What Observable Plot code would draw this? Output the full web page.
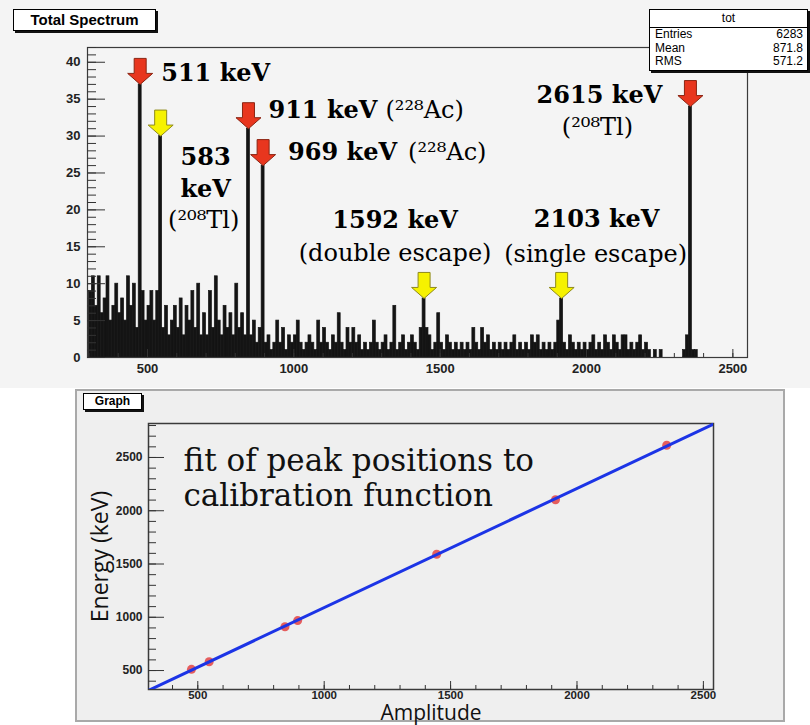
<!DOCTYPE html>
<html>
<head>
<meta charset="utf-8">
<script src="https://cdn.jsdelivr.net/npm/d3@7"></script>
<script src="https://cdn.jsdelivr.net/npm/@observablehq/plot@0.6"></script>
<style>
  html, body { margin: 0; padding: 0; background: #fff; }
  #page { position: relative; width: 810px; height: 725px; overflow: hidden; background: #fff; }
  #spectrumPad { position: absolute; left: 0; top: 0; width: 810px; height: 388px; background: #f4f4f4; }
  #graphPad { position: absolute; left: 75px; top: 389px; width: 710px; height: 333px; box-sizing: border-box;
              border: 2px solid #a9a9a9; background: #efefef; }
  #spectrum, #graph { position: absolute; left: 0; }
  #spectrum { top: 0; }
  #graph { top: 388px; }
  .rootTitle { position: absolute; box-sizing: border-box; background: #fff; border: 1px solid #000;
               box-shadow: 2px 2px 0 #111; font-family: "Liberation Sans", Arial, sans-serif; font-weight: bold;
               color: #000; text-align: center; }
  #stats { position: absolute; left: 649px; top: 9px; width: 159px; height: 62px; box-sizing: border-box;
           background: #fff; border: 1px solid #000; box-shadow: 2px 2px 0 #111;
           font-family: "Liberation Sans", Arial, sans-serif; font-size: 12px; color: #000; }
  #stats .head { text-align: center; height: 17px; line-height: 16px; border-bottom: 1px solid #000; }
  #stats .row { display: flex; justify-content: space-between; padding: 0 4px 0 5px; height: 13.5px; line-height: 13.5px; }
</style>
</head>
<body>
<div id="page">
  <div id="spectrumPad"></div>
  <div id="graphPad"></div>
  <div id="spectrum"></div>
  <div id="graph"></div>
  <div class="rootTitle" style="left:13px; top:9px; width:143px; height:22px; font-size:15px; line-height:20px;">Total Spectrum</div>
  <div id="stats">
    <div class="head">tot</div>
    <div class="row"><span>Entries</span><span>6283</span></div>
    <div class="row"><span>Mean</span><span>871.8</span></div>
    <div class="row"><span>RMS</span><span>571.2</span></div>
  </div>
  <div class="rootTitle" style="left:83px; top:393px; width:59px; height:17px; font-size:12px; line-height:15px;">Graph</div>
</div>
<script>
// ---- Spectrum histogram: counts per 10-unit amplitude bin, starting at 300 ----
const binStart = 300;
const binWidth = 10;
const counts = [
  9, 11, 7, 11, 6, 8, 11, 5, 7, 10,     // 300
  6, 8, 5, 11, 7, 10, 4, 37, 9, 5,      // 400
  7, 9, 5, 9, 30, 4, 7, 3, 5, 7,        // 500
  4, 8, 3, 7, 5, 9, 4, 10, 3, 6,        // 600
  3, 9, 4, 11, 5, 3, 7, 4, 6, 3,        // 700
  10, 4, 6, 3, 31, 3, 5, 2, 4, 26,      // 800
  2, 3, 1, 2, 5, 2, 4, 1, 3, 2,         // 900
  3, 5, 2, 1, 2, 3, 2, 1, 5, 2,         // 1000
  4, 2, 1, 3, 2, 6, 2, 1, 4, 2,         // 1100
  4, 2, 3, 1, 2, 1, 2, 5, 2, 1,         // 1200
  2, 3, 1, 2, 7, 1, 2, 3, 1, 2,         // 1300
  3, 2, 1, 4, 8, 4, 3, 1, 2, 6,         // 1400
  2, 1, 3, 2, 1, 2, 1, 2, 1, 2,         // 1500
  1, 4, 2, 1, 4, 2, 3, 1, 2, 1,         // 1600
  2, 1, 2, 1, 2, 3, 1, 2, 1, 2,         // 1700
  1, 3, 2, 3, 1, 2, 1, 2, 1, 2,         // 1800
  5, 8, 2, 1, 3, 2, 1, 2, 1, 2,         // 1900
  1, 2, 3, 1, 2, 1, 3, 2, 1, 3,         // 2000
  2, 1, 3, 3, 1, 2, 1, 2, 3, 1,         // 2100
  2, 1, 0, 1, 0, 1, 0, 0, 0, 0,         // 2200
  0, 0, 0, 1, 3, 34, 1, 1, 0, 0,        // 2300
  0, 0, 0, 0, 0, 0, 0, 0, 0, 0,         // 2400
  0, 0, 0, 0, 0                          // 2500
];

// ---- Identified lines: energy (keV) and fitted peak amplitude ----
const peakEnergy    = [511, 583, 911, 969, 1592, 2103, 2615];
const peakAmplitude = [475, 545, 845, 895, 1445, 1915, 2355];
const peakMarker    = ["red", "yellow", "red", "red", "yellow", "yellow", "red"];

// Axis ticks
const spectrumYTicks = [0, 5, 10, 15, 20, 25, 30, 35, 40];
const ampTicks = [500, 1000, 1500, 2000, 2500];
const energyTicks = [500, 1000, 1500, 2000, 2500];

// ---- derived tables ----
const bins = counts.map((c, i) => ({x1: binStart + i * binWidth, x2: binStart + (i + 1) * binWidth, count: c}));
const peaks = peakEnergy.map((e, i) => ({
  energy: e,
  amp: peakAmplitude[i],
  count: counts[Math.floor((peakAmplitude[i] - binStart) / binWidth)],
  marker: peakMarker[i]
}));

// Down-pointing arrow with its tip at the mark position
const downArrow = {
  draw(ctx) {
    ctx.moveTo(0, 0);
    ctx.lineTo(-12.5, -11);
    ctx.lineTo(-6, -11);
    ctx.lineTo(-6, -26);
    ctx.lineTo(6, -26);
    ctx.lineTo(6, -11);
    ctx.lineTo(12.5, -11);
    ctx.closePath();
  }
};
const markerFill = {red: "#e8361e", yellow: "#f6f200"};
const markerStroke = {red: "#8a2412", yellow: "#8f8a1c"};

const serif = "'DejaVu Serif', 'Liberation Serif', serif";
const labelStyle = {fontFamily: serif, fontWeight: "bold", fontSize: 24, fill: "#000"};
const noteStyle = {fontFamily: serif, fontSize: 24, fill: "#000"};
const plain = d3.format("d");

function peakText(i, text, style, opts) {
  return Plot.text([peaks[i]], {x: "amp", y: "count", text: () => text, ...style, ...opts});
}

const spectrum = Plot.plot({
  width: 810,
  height: 388,
  marginLeft: 87,
  marginRight: 63,
  marginTop: 47,
  marginBottom: 31,
  style: {background: "transparent", fontFamily: "'Liberation Sans', Arial, sans-serif", overflow: "visible"},
  x: {domain: [295, 2550]},
  y: {domain: [0, 42]},
  marks: [
    Plot.rectY(bins, {x1: "x1", x2: "x2", y: "count", fill: "#141414", stroke: "#141414", strokeWidth: 0.7}),
    Plot.frame({stroke: "#3a3a3a", strokeWidth: 1.2}),
    Plot.axisY(d3.range(0, 43, 1), {tickSize: -9, tickFormat: () => "", label: null, stroke: "#333"}),
    Plot.axisY(spectrumYTicks, {tickSize: -18, tickFormat: () => "", label: null, stroke: "#333"}),
    Plot.axisY(spectrumYTicks, {tickSize: 0, tickPadding: 7, tickFormat: plain, fontSize: 13, fontWeight: "bold", fill: "#222", label: null}),
    Plot.axisX(d3.range(300, 2550, 100), {tickSize: -4, tickFormat: () => "", label: null, stroke: "#333"}),
    Plot.axisX(ampTicks, {tickSize: -8, tickFormat: () => "", label: null, stroke: "#333"}),
    Plot.axisX(ampTicks, {tickSize: 0, tickPadding: 6, tickFormat: plain, fontSize: 13, fontWeight: "bold", fill: "#222", label: null}),
    Plot.dot(peaks, {
      x: "amp", y: "count", symbol: downArrow, r: 10,
      fill: d => markerFill[d.marker], stroke: d => markerStroke[d.marker], strokeWidth: 1
    }),
    // 511 keV
    peakText(0, "511 keV", labelStyle, {textAnchor: "start", dx: 21, dy: -11}),
    // 583 keV (208Tl)
    peakText(1, "583\nkeV", labelStyle, {textAnchor: "middle", lineAnchor: "top", lineHeight: 1.33, dx: 45, dy: 6}),
    peakText(1, "(²⁰⁸Tl)", noteStyle, {textAnchor: "middle", dx: 43, dy: 84}),
    // 911 keV (228Ac)
    peakText(2, "911 keV", labelStyle, {textAnchor: "start", dx: 20, dy: -18}),
    peakText(2, "(²²⁸Ac)", noteStyle, {textAnchor: "start", dx: 137, dy: -18}),
    // 969 keV (228Ac)
    peakText(3, "969 keV", labelStyle, {textAnchor: "start", dx: 25, dy: -13}),
    peakText(3, "(²²⁸Ac)", noteStyle, {textAnchor: "start", dx: 145, dy: -13}),
    // 1592 keV double escape
    peakText(4, "1592 keV", labelStyle, {textAnchor: "middle", dx: -29, dy: -78}),
    peakText(4, "(double escape)", noteStyle, {textAnchor: "middle", dx: -29, dy: -45}),
    // 2103 keV single escape
    peakText(5, "2103 keV", labelStyle, {textAnchor: "middle", dx: 35, dy: -79}),
    peakText(5, "(single escape)", noteStyle, {textAnchor: "middle", dx: 34, dy: -44}),
    // 2615 keV (208Tl)
    peakText(6, "2615 keV", labelStyle, {textAnchor: "middle", dx: -91, dy: -11}),
    peakText(6, "(²⁰⁸Tl)", noteStyle, {textAnchor: "middle", dx: -93, dy: 21})
  ]
});
document.getElementById("spectrum").append(spectrum);

// ---- Calibration: straight-line least-squares fit of energy vs amplitude ----
const ampDomain = [305, 2540];
const energyDomain = [322, 2819];
const meanA = d3.mean(peakAmplitude);
const meanE = d3.mean(peakEnergy);
const slope = d3.sum(peakAmplitude, (a, i) => (a - meanA) * (peakEnergy[i] - meanE)) /
              d3.sum(peakAmplitude, a => (a - meanA) ** 2);
const intercept = meanE - slope * meanA;
const fitLine = ampDomain.map(a => ({amp: a, energy: intercept + slope * a}));

const graph = Plot.plot({
  width: 810,
  height: 337,
  marginLeft: 148,
  marginRight: 97,
  marginTop: 35,
  marginBottom: 36,
  style: {background: "transparent", fontFamily: "'Liberation Sans', Arial, sans-serif", overflow: "visible"},
  x: {domain: ampDomain},
  y: {domain: energyDomain},
  marks: [
    Plot.frame({stroke: "#3a3a3a", strokeWidth: 1.5}),
    Plot.axisY(d3.range(400, 2801, 100), {tickSize: -8, tickFormat: () => "", label: null, stroke: "#333"}),
    Plot.axisY(energyTicks, {tickSize: -16, tickFormat: () => "", label: null, stroke: "#333"}),
    Plot.axisY(energyTicks, {tickSize: 0, tickPadding: 6, tickFormat: plain, fontSize: 12, fontWeight: "bold", fill: "#222", label: null}),
    Plot.axisX(d3.range(400, 2501, 100), {tickSize: -4, tickFormat: () => "", label: null, stroke: "#333"}),
    Plot.axisX(ampTicks, {tickSize: -8, tickFormat: () => "", label: null, stroke: "#333"}),
    Plot.axisX(ampTicks, {tickSize: 0, tickPadding: 1, tickFormat: plain, fontSize: 11.5, fontWeight: "bold", fill: "#222", label: null}),
    Plot.dot(peaks, {x: "amp", y: "energy", r: 4.5, fill: "#e23838", fillOpacity: 0.8}),
    Plot.line(fitLine, {x: "amp", y: "energy", stroke: "#1c34e6", strokeWidth: 3, clip: true}),
    Plot.text(["fit of peak positions to\ncalibration function"], {
      frameAnchor: "top-left", text: d => d, textAnchor: "start", lineAnchor: "top",
      dx: 35, dy: 23, lineHeight: 1.13, fontFamily: serif, fontSize: 31, fill: "#111"
    }),
    Plot.text(["Energy (keV)"], {
      frameAnchor: "left", text: d => d, textAnchor: "middle", rotate: -90, dx: -48,
      fontFamily: "'Open Sans', 'DejaVu Sans', sans-serif", fontSize: 23, fill: "#111"
    }),
    Plot.text(["Amplitude"], {
      frameAnchor: "bottom", text: d => d, textAnchor: "middle", lineAnchor: "bottom", dy: 30,
      fontFamily: "'Open Sans', 'DejaVu Sans', sans-serif", fontSize: 21, fill: "#111"
    })
  ]
});
document.getElementById("graph").append(graph);
</script>
</body>
</html>
